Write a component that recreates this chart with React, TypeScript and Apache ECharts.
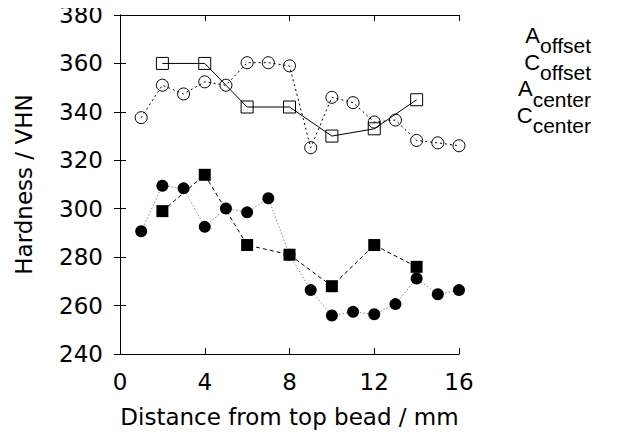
import React, { useEffect, useRef } from "react";
import * as echarts from "echarts";

const xTickLabels = ["0", "4", "8", "12", "16"];
const yTickLabels = ["240", "260", "280", "300", "320", "340", "360", "380"];

const seriesNames = ["A_offset", "C_offset", "A_center", "C_center"];

const aOffsetX = [2, 4, 6, 8, 10, 12, 14];
const aOffsetY = [360, 360, 342, 342, 330, 333, 345];

const cOffsetX = [1, 2, 3, 4, 5, 6, 7, 8, 9, 10, 11, 12, 13, 14, 15, 16];
const cOffsetY = [337.6, 351, 347.4, 352.4, 351, 360.3, 360.3, 359, 325.2, 346, 343.8, 335.8, 336.6, 328.2, 327.2, 326];

const aCenterX = [2, 4, 6, 8, 10, 12, 14];
const aCenterY = [299, 314, 285, 281, 268, 285, 276];

const cCenterX = [1, 2, 3, 4, 5, 6, 7, 8, 9, 10, 11, 12, 13, 14, 15, 16];
const cCenterY = [290.7, 309.5, 308.4, 292.5, 300.1, 298.5, 304.3, 281, 266.4, 255.9, 257.4, 256.4, 260.6, 271.2, 264.7, 266.4];

const legendMain = ["A", "C", "A", "C"];
const legendSub = ["offset", "offset", "center", "center"];

const FONT = "DejaVu Sans, Liberation Sans, Arial, sans-serif";
const LFONT = "Liberation Sans, Arial, Helvetica, sans-serif";

const zip = (xs: number[], ys: number[]) => xs.map((x, i) => [x, ys[i]]);

function measure(text: string, font: string): number {
  const c = document.createElement("canvas").getContext("2d");
  if (!c) return text.length * 10;
  c.font = font;
  return c.measureText(text).width;
}

export default function App() {
  const ref = useRef<HTMLDivElement>(null);
  useEffect(() => {
    if (!ref.current) return;
    const chart = echarts.init(ref.current, null, { renderer: "svg" });
    const axisCommon = {
      axisLine: { show: true, lineStyle: { color: "#000", width: 1 } },
      axisTick: { show: true, inside: true, length: 6, lineStyle: { color: "#000" } },
      splitLine: { show: false },
    };
    const legendRight = 591;
    const mainSize = 22;
    const subSize = 21;
    const legendGraphics: any[] = [];
    legendMain.forEach((m, i) => {
      const subBase = 53 + i * 26.7;
      const mainBase = subBase - 10;
      const subW = measure(legendSub[i], `${subSize}px Liberation Sans`);
      legendGraphics.push({
        type: "text",
        x: legendRight,
        y: subBase - 0.3465 * subSize,
        style: {
          text: legendSub[i],
          fontSize: subSize,
          fontFamily: LFONT,
          fill: "#000",
          align: "right",
          verticalAlign: "middle",
        },
      });
      legendGraphics.push({
        type: "text",
        x: legendRight - subW,
        y: mainBase - 0.3465 * mainSize,
        style: {
          text: m,
          fontSize: mainSize,
          fontFamily: LFONT,
          fill: "#000",
          align: "right",
          verticalAlign: "middle",
        },
      });
    });
    chart.setOption({
      animation: false,
      backgroundColor: "#fff",
      grid: { left: 120, right: 174, top: 15, bottom: 88 },
      xAxis: [
        {
          type: "value",
          min: 0,
          max: 16,
          interval: 4,
          ...axisCommon,
          axisLabel: {
            fontSize: 23,
            color: "#000",
            fontFamily: FONT,
            margin: 16,
            formatter: (v: number) => xTickLabels[xTickLabels.indexOf(String(v))] ?? String(v),
          },
          name: "Distance from top bead / mm",
          nameLocation: "middle",
          nameGap: 51,
          nameTextStyle: { fontSize: 23, color: "#000", fontFamily: FONT },
        },
        {
          type: "value",
          position: "top",
          min: 0,
          max: 16,
          interval: 4,
          ...axisCommon,
          axisLabel: { show: false },
        },
      ],
      yAxis: [
        {
          type: "value",
          min: 240,
          max: 380,
          interval: 20,
          ...axisCommon,
          axisLabel: {
            fontSize: 23,
            color: "#000",
            fontFamily: FONT,
            margin: 17,
            formatter: (v: number) => yTickLabels[yTickLabels.indexOf(String(v))] ?? String(v),
          },
          name: "Hardness / VHN",
          nameLocation: "middle",
          nameGap: 85,
          nameRotate: 90,
          nameTextStyle: { fontSize: 23, color: "#000", fontFamily: FONT },
        },
        {
          type: "value",
          position: "right",
          min: 240,
          max: 380,
          interval: 20,
          ...axisCommon,
          axisLabel: { show: false },
        },
      ],
      series: [
        {
          name: seriesNames[0],
          type: "line",
          data: zip(aOffsetX, aOffsetY),
          symbol: "rect",
          symbolSize: 12,
          itemStyle: { color: "rgba(255,255,255,0)", borderColor: "#000", borderWidth: 1 },
          lineStyle: { color: "#000", width: 1, type: "solid" },
          z: 3,
        },
        {
          name: seriesNames[1],
          type: "line",
          data: zip(cOffsetX, cOffsetY),
          symbol: "circle",
          symbolSize: 12,
          itemStyle: { color: "rgba(255,255,255,0)", borderColor: "#000", borderWidth: 1 },
          lineStyle: { color: "#000", width: 1, type: [2, 3] },
          z: 3,
        },
        {
          name: seriesNames[2],
          type: "line",
          data: zip(aCenterX, aCenterY),
          symbol: "rect",
          symbolSize: 12,
          itemStyle: { color: "#000", borderColor: "#000", borderWidth: 0 },
          lineStyle: { color: "#000", width: 1, type: [4, 3] },
          z: 3,
        },
        {
          name: seriesNames[3],
          type: "line",
          data: zip(cCenterX, cCenterY),
          symbol: "circle",
          symbolSize: 12,
          itemStyle: { color: "#000", borderColor: "#000", borderWidth: 0 },
          lineStyle: { color: "#888", width: 1, type: [1.5, 2] },
          z: 3,
        },
      ],
      graphic: legendGraphics,
    });
    return () => chart.dispose();
  }, []);
  return <div ref={ref} style={{ width: 633, height: 442, margin: -8 }} />;
}
